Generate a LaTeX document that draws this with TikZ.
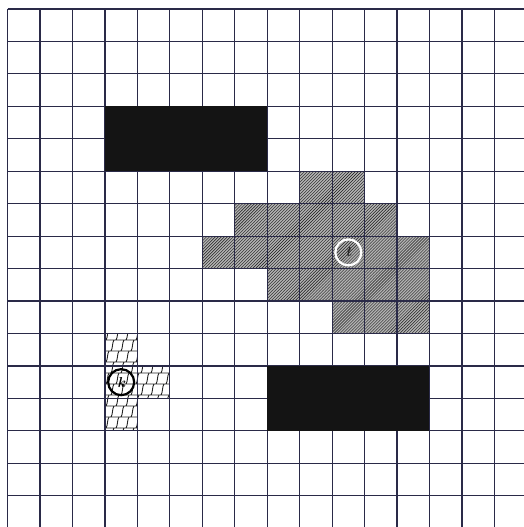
\documentclass[tikz,border=0pt]{standalone}
\usetikzlibrary{patterns}
\pgfdeclarepatternformonly{slantbricks}{\pgfpoint{-1bp}{-1bp}}{\pgfpoint{11bp}{23bp}}{\pgfpoint{10bp}{22bp}}{%
  \pgfsetlinewidth{0.9bp}%
  \pgfpathmoveto{\pgfpoint{0bp}{0bp}}\pgfpathlineto{\pgfpoint{10bp}{0bp}}%
  \pgfpathmoveto{\pgfpoint{0bp}{11bp}}\pgfpathlineto{\pgfpoint{10bp}{11bp}}%
  \pgfpathmoveto{\pgfpoint{1bp}{0bp}}\pgfpathcurveto{\pgfpoint{3bp}{3bp}}{\pgfpoint{2bp}{8bp}}{\pgfpoint{4bp}{11bp}}%
  \pgfpathmoveto{\pgfpoint{6bp}{11bp}}\pgfpathcurveto{\pgfpoint{8bp}{14bp}}{\pgfpoint{7bp}{19bp}}{\pgfpoint{9bp}{22bp}}%
  \pgfusepath{stroke}}
\definecolor{gridline}{HTML}{2A2A48}
\def\s{32.45}
\def\ox{7.6}
\def\oy{9.0}
\newcommand\cellrect[4]{(\ox+#1*\s,\oy+#2*\s) rectangle (\ox+#3*\s,\oy+#4*\s)}
\tikzset{
  hatchzone/.style={fill=gray!60, postaction={pattern=north east lines, pattern color=black!90}},
  brickzone/.style={pattern=slantbricks, pattern color=black!85},
  obstacle/.style={fill=black!92},
  gridpen/.style={draw=gridline, line width=1.2bp},
  markring/.style={circle, minimum size=26bp, inner sep=0pt, line width=2.2bp, font=\bfseries\itshape\Large}
}
\begin{document}
\begin{tikzpicture}[x=1bp,y=-1bp]
\useasboundingbox (0,0) rectangle (524,527);
\fill[white] (0,0) rectangle (524,527);
\begin{scope}
\clip (0,0) rectangle (524,527);
% hatched region
\path[hatchzone] \cellrect{9}{5}{11}{6};
\path[hatchzone] \cellrect{7}{6}{12}{7};
\path[hatchzone] \cellrect{6}{7}{13}{8};
\path[hatchzone] \cellrect{8}{8}{13}{9};
\path[hatchzone] \cellrect{10}{9}{13}{10};
% brick region
\path[brickzone] \cellrect{3}{10}{4}{13};
\path[brickzone] \cellrect{4}{11}{5}{12};
% grid
\foreach \k in {0,...,16} {
  \draw[gridpen] (\ox+\k*\s,\oy) -- (\ox+\k*\s,\oy+16*\s);
  \draw[gridpen] (\ox,\oy+\k*\s) -- (\ox+16*\s,\oy+\k*\s);
}
% obstacles
\path[obstacle] \cellrect{3}{3}{8}{5};
\path[obstacle] \cellrect{8}{11}{13}{13};
\end{scope}
% markers
\node[markring, draw=white, text=black!85] (goal) at (\ox+10.5*\s,\oy+7.5*\s) {t};
\node[markring, draw=black, text=black] (start) at (\ox+3.5*\s,\oy+11.5*\s) {k};
\end{tikzpicture}
\end{document}
